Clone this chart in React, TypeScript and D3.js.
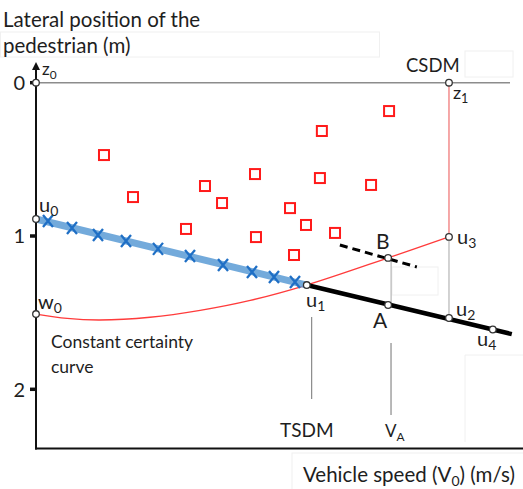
import React from "react";
import * as d3 from "d3";

// Speed axis in arbitrary units (0–100), lateral position in metres.
const yTicks = [0, 1, 2];

// Observed pedestrian positions (red squares): [speed, lateral]
const observedSpeed = [13.96, 19.92, 30.8, 34.7, 38.2, 44.97, 45.17, 52.16, 52.98, 55.44, 58.3, 58.7, 61.4, 68.8, 72.5];
const observedLateral = [0.472, 0.746, 0.954, 0.674, 0.785, 0.596, 1.007, 0.818, 1.124, 0.928, 0.622, 0.315, 0.98, 0.667, 0.185];

// Fitted trajectory samples (blue crosses)
const fitSpeed = [2.46, 7.39, 12.73, 18.48, 25.05, 31.62, 38.4, 44.35, 48.87, 53.18];
const fitLateral = [0.902, 0.948, 0.993, 1.032, 1.084, 1.13, 1.189, 1.235, 1.267, 1.3];

// Constant certainty curve
const certaintySpeed = [0, 6.4, 13.1, 23.4, 33.7, 44.0, 55.6, 72.3, 84.8];
const certaintyLateral = [1.509, 1.538, 1.548, 1.53, 1.485, 1.42, 1.32, 1.143, 1.006];

// Key points
const pointNames = ["z0", "u0", "w0", "u1", "A", "B", "u2", "u3", "u4", "z1"];
const pointSpeed = [0, 0, 0, 55.6, 72.3, 72.3, 84.8, 84.8, 93.8, 84.8];
const pointLateral = [0, 0.889, 1.509, 1.32, 1.45, 1.143, 1.535, 1.006, 1.61, 0];

// Extrapolated trajectory (thick black) from u1 onward
const extSpeed = [55.6, 97.7];
const extLateral = [1.32, 1.64];

// Dashed tangent through B
const dashSpeed = [62.4, 78.2];
const dashLateral = [1.059, 1.202];

// Speed markers below the chart
const markerSpeed = [56.6, 72.9];
const markerFrom = [1.529, 1.698];
const markerTo = [2.064, 2.168];

const W = 523;
const H = 489;

export default function App() {
  const x = d3.scaleLinear().domain([0, 100]).range([36, 523]);
  const y = d3.scaleLinear().domain([0, 2]).range([82.7, 389.3]);

  const pt = (name: string) => {
    const i = pointNames.indexOf(name);
    return [x(pointSpeed[i]), y(pointLateral[i])] as [number, number];
  };

  const fitLine = d3.line<[number, number]>()([pt("u0"), pt("u1")]) as string;
  const extLine = d3.line<number>().x((i) => x(extSpeed[i])).y((i) => y(extLateral[i]))(extSpeed.map((_, i) => i)) as string;
  const certaintyLine = d3
    .line<number>()
    .x((i) => x(certaintySpeed[i]))
    .y((i) => y(certaintyLateral[i]))
    .curve(d3.curveCatmullRom.alpha(0.5))(certaintySpeed.map((_, i) => i)) as string;

  const font = "Lato, 'Open Sans', sans-serif";
  const ink = "#1e1e1e";
  const faint = "#f0f0f0";

  const [z1x, z1y] = pt("z1");
  const [u3x, u3y] = pt("u3");
  const [u2x, u2y] = pt("u2");
  const [ax, ay] = pt("A");
  const [bx, by] = pt("B");
  const axisBottom = 448.5;

  const sub = (base: string, s: string, px: number, py: number, size = 20) => (
    <text x={px} y={py} fontFamily={font} fontSize={size} fill={ink}>
      {base}
      <tspan fontSize={size * 0.7} dy={size * 0.22}>
        {s}
      </tspan>
    </text>
  );

  return (
    <svg width={W} height={H} style={{ position: "absolute", left: 0, top: 0, background: "#fff" }}>
      {/* leftover text-box outlines */}
      <g fill="none" stroke={faint} strokeWidth={1}>
        <rect x={0.5} y={32} width={379} height={25} />
        <rect x={465} y={51} width={48} height={26} />
        <rect x={392} y={267} width={46} height={28} />
        <path d="M465,442 V355 H523" />
        <rect x={292} y={453} width={240} height={40} />
      </g>

      {/* titles */}
      <text x={3} y={27} fontFamily={font} fontSize={20.5} fill={ink}>Lateral position of the</text>
      <text x={3} y={53} fontFamily={font} fontSize={20.5} fill={ink}>pedestrian (m)</text>

      {/* zero line */}
      <line x1={x(0)} x2={510} y1={y(0)} y2={y(0)} stroke="#8c8c8c" strokeWidth={1.6} />

      {/* axes */}
      <line x1={x(0)} x2={x(0)} y1={68} y2={axisBottom + 1} stroke="#111" strokeWidth={2} />
      <path d={`M${x(0) - 4},${70} L${x(0)},${62} L${x(0) + 4},${70} Z`} fill="#111" />
      <line x1={x(0) - 1} x2={W} y1={axisBottom} y2={axisBottom} stroke="#111" strokeWidth={2.2} />
      {yTicks.map((t) => (
        <g key={t}>
          <line x1={x(0) - 6} x2={x(0)} y1={y(t)} y2={y(t)} stroke="#111" strokeWidth={3.5} />
          <text x={25} y={y(t)} dy="0.36em" textAnchor="end" fontFamily={font} fontSize={20} fill={ink}>
            {t}
          </text>
        </g>
      ))}

      {/* speed markers */}
      {markerSpeed.map((s, i) => (
        <line key={i} x1={x(s)} x2={x(s)} y1={y(markerFrom[i])} y2={y(markerTo[i])} stroke="#8a8a8a" strokeWidth={1.2} />
      ))}
      <line x1={bx + 3} x2={ax + 3} y1={by} y2={ay} stroke="#b5b5b5" strokeWidth={1.2} />
      <line x1={u3x} x2={u2x} y1={u3y} y2={u2y} stroke="#b5b5b5" strokeWidth={1.2} />

      {/* CSDM vertical */}
      <line x1={z1x} x2={u3x} y1={z1y} y2={u3y} stroke="#f28b8b" strokeWidth={1.5} />

      {/* observed positions */}
      {observedSpeed.map((s, i) => (
        <rect key={i} x={x(s) - 5} y={y(observedLateral[i]) - 5} width={10} height={10} fill="#fff" stroke="#ff1a1a" strokeWidth={2} />
      ))}

      {/* constant certainty curve */}
      <path d={certaintyLine} fill="none" stroke="#ff3b3b" strokeWidth={1.3} />

      {/* fitted trajectory */}
      <path d={fitLine} fill="none" stroke="#5b9bd5" strokeOpacity={0.85} strokeWidth={7} />
      {fitSpeed.map((s, i) => {
        const cx = x(s);
        const cy = y(fitLateral[i]);
        return (
          <path
            key={i}
            d={`M${cx - 5},${cy - 6} L${cx + 5},${cy + 6} M${cx + 5},${cy - 6} L${cx - 5},${cy + 6}`}
            stroke="#1f6fc5"
            strokeWidth={2.3}
            fill="none"
          />
        );
      })}

      {/* extrapolated trajectory */}
      <path d={extLine} fill="none" stroke="#000" strokeWidth={4.5} />

      {/* tangent through B */}
      <line x1={x(dashSpeed[0])} x2={x(dashSpeed[1])} y1={y(dashLateral[0])} y2={y(dashLateral[1])} stroke="#000" strokeWidth={3} strokeDasharray="8,5" />

      {/* key points */}
      {pointNames.map((n) => {
        const [px, py] = pt(n);
        return <circle key={n} cx={px} cy={py} r={3.3} fill="#fff" stroke="#333" strokeWidth={1.3} />;
      })}

      {/* point labels */}
      {sub("z", "0", 42, 75, 17)}
      {sub("z", "1", z1x + 4, 99, 18)}
      {sub("u", "0", 39, 212)}
      {sub("w", "0", 38, 309)}
      {sub("u", "1", 306, 307)}
      {sub("u", "2", 456, 316)}
      {sub("u", "3", 457, 244)}
      {sub("u", "4", 477, 346)}
      <text x={376} y={249} fontFamily={font} fontSize={21} fill={ink}>B</text>
      <text x={373} y={328} fontFamily={font} fontSize={21} fill={ink}>A</text>
      <text x={406} y={72} fontFamily={font} fontSize={18.5} fill={ink}>CSDM</text>

      <text x={51} y={348} fontFamily={font} fontSize={17.5} fill={ink}>Constant certainty</text>
      <text x={51} y={373} fontFamily={font} fontSize={17.5} fill={ink}>curve</text>

      <text x={280} y={437} fontFamily={font} fontSize={19} fill={ink}>TSDM</text>
      {sub("V", "A", 385, 437, 17)}
      <text x={303} y={482} fontFamily={font} fontSize={20.5} fill={ink}>
        Vehicle speed (V
        <tspan fontSize={14} dy={4}>0</tspan>
        <tspan dy={-4}>) (m/s)</tspan>
      </text>
    </svg>
  );
}
